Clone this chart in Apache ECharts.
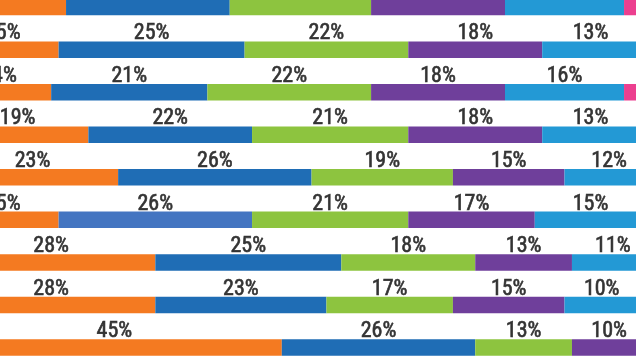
<!DOCTYPE html>
<html>
<head>
<meta charset="utf-8">
<script src="https://cdn.jsdelivr.net/npm/echarts@6/dist/echarts.min.js"></script>
<style>
html,body{margin:0;padding:0;background:#fff;}
#chart{width:636px;height:356px;}
</style>
</head>
<body>
<div id="chart"></div>
<script>
var categories = ['Row 1','Row 2','Row 3','Row 4','Row 5','Row 6','Row 7','Row 8','Row 9'];
var seriesNames = ['Orange','Blue','Green','Purple','Light blue','Pink'];
var orangeValues    = [16,15,14,19,23,15,28,28,45];
var blueValues      = [22,25,21,22,26,26,25,23,26];
var greenValues     = [19,22,22,21,19,21,18,17,13];
var purpleValues    = [18,18,18,18,15,17,13,15,10];
var lightBlueValues = [16,13,16,13,12,15,11,10,6];
var pinkValues      = [9,7,9,7,5,6,5,7,0];

var allValues = [orangeValues, blueValues, greenValues, purpleValues, lightBlueValues, pinkValues];
var colors = ['#f47a21','#1f6db5','#8dc43f','#6f3f9b','#2399d5','#ec3f8f'];

var series = allValues.map(function (vals, si) {
  return {
    name: seriesNames[si],
    type: 'bar',
    stack: 'total',
    barWidth: 16.5,
    clip: false,
    itemStyle: { color: colors[si] },
    label: {
      show: true,
      position: 'top',
      distance: -3.5,
      fontFamily: '"Roboto Condensed", "DejaVu Sans Condensed", "Liberation Sans Narrow", Roboto, sans-serif',
      fontSize: 22,
      color: '#333333',
      textBorderColor: '#333333',
      textBorderWidth: 0.6,
      formatter: function (p) { return p.value > 0 ? p.value + '%' : ''; }
    },
    data: vals.map(function (v, i) {
      if (si === 1 && i === 5) {
        return { value: v, itemStyle: { color: '#4475c1' } };
      }
      return v;
    })
  };
});

var chart = echarts.init(document.getElementById('chart'));
chart.setOption({
  animation: false,
  backgroundColor: '#ffffff',
  grid: { left: -53, width: 744, top: -14.2, height: 383, outerBoundsMode: 'none', containLabel: false },
  xAxis: { type: 'value', min: 0, max: 100, show: false },
  yAxis: { type: 'category', data: categories, inverse: true, show: false },
  series: series
});
</script>
</body>
</html>
